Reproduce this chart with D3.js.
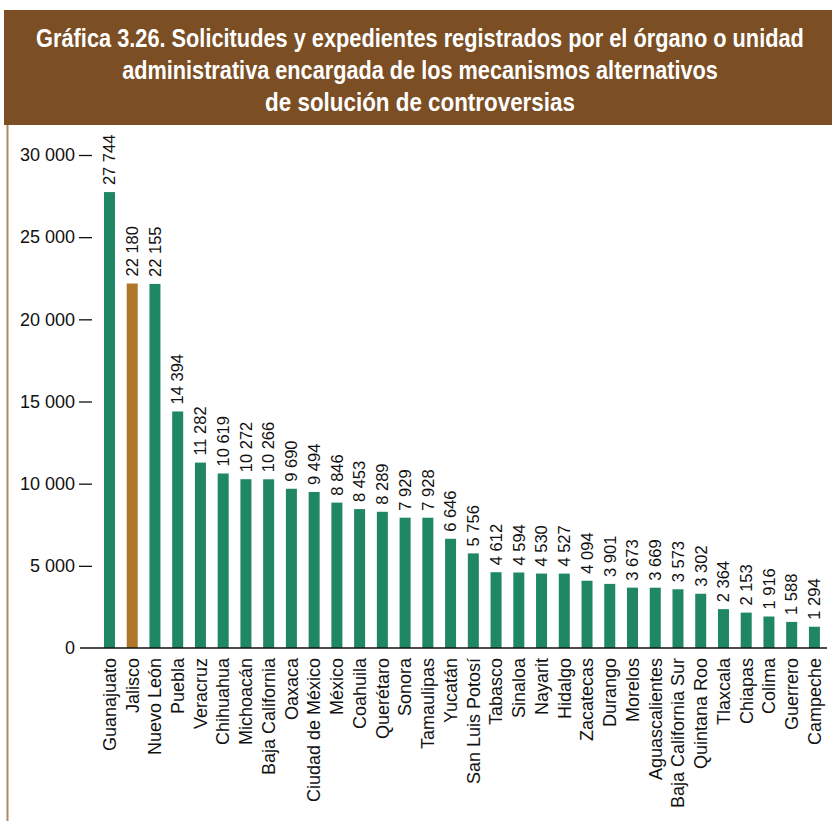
<html>
<head>
  <meta charset="UTF-8">
  <title>Gráfica 3.26</title>
  <script src="https://d3js.org/d3.v7.min.js"></script>
  <style>
    body { margin: 0; background: white; }
    text { font-family: "Liberation Sans", Arial, sans-serif; }
  </style>
</head>
<body>
<svg></svg>
<script>

    // Data

    const estados = ["Guanajuato", "Jalisco", "Nuevo León", "Puebla", "Veracruz", "Chihuahua",
        "Michoacán", "Baja California", "Oaxaca", "Ciudad de México", "México", "Coahuila",
        "Querétaro", "Sonora", "Tamaulipas", "Yucatán", "San Luis Potosí", "Tabasco", "Sinaloa",
        "Nayarit", "Hidalgo", "Zacatecas", "Durango", "Morelos", "Aguascalientes",
        "Baja California Sur", "Quintana Roo", "Tlaxcala", "Chiapas", "Colima", "Guerrero", "Campeche"];

    const solicitudes = [27744, 22180, 22155, 14394, 11282, 10619, 10272, 10266, 9690, 9494,
        8846, 8453, 8289, 7929, 7928, 6646, 5756, 4612, 4594, 4530, 4527, 4094, 3901, 3673,
        3669, 3573, 3302, 2364, 2153, 1916, 1588, 1294];

    const resaltado = ["Jalisco"];

    const yTicks = [0, 5000, 10000, 15000, 20000, 25000, 30000];

    const titulo = [
        "Gráfica 3.26. Solicitudes y expedientes registrados por el órgano o unidad",
        "administrativa encargada de los mecanismos alternativos",
        "de solución de controversias"
    ];

    // Setup

    const width = 832;
    const height = 821;

    const svg = d3.select("svg")
                  .attr("width", width)
                  .attr("height", height);

    const locale = d3.formatLocale({ decimal: ",", thousands: " ", grouping: [3], currency: ["", ""] });
    const fmt = locale.format(",d");

    // Header band

    svg.append("rect")
       .attr("x", 4).attr("y", 10)
       .attr("width", width - 4).attr("height", 115)
       .attr("fill", "#7b4e24");

    svg.append("line")
       .attr("x1", 7.5).attr("x2", 7.5)
       .attr("y1", 125).attr("y2", height)
       .attr("stroke", "#a88a68")
       .attr("stroke-width", 2);

    // title is a condensed bold face in the original, squeeze each line horizontally
    const titleWidths = [768, 596, 310];
    titulo.forEach((t, i) => {
        let g = svg.append("g");
        let txt = g.append("text")
           .attr("text-anchor", "middle")
           .attr("fill", "white")
           .attr("font-weight", "bold")
           .attr("font-size", 26)
           .text(t);
        const natural = txt.node().getComputedTextLength();
        const sx = titleWidths[i] / natural;
        g.attr("transform", `translate(420, ${47 + i * 32}) scale(${sx}, 1)`);
    });

    // Scales

    const xScale = d3.scaleBand()
                     .domain(estados)
                     .range([92.6, 831.3])
                     .paddingInner(0.516)
                     .paddingOuter(0.5);

    const yScale = d3.scaleLinear()
                     .domain([0, 30000])
                     .range([648, 155]);

    // Y axis

    const leftAxis = d3.axisLeft(yScale)
                       .tickValues(yTicks)
                       .tickFormat(d => fmt(d))
                       .tickSize(13)
                       .tickPadding(4);

    const yAxis = svg.append("g")
                     .attr("class", "y axis")
                     .attr("transform", "translate(92, 0)")
                     .call(leftAxis);

    yAxis.select(".domain").remove();
    yAxis.selectAll(".tick line").attr("stroke", "#111").attr("stroke-width", 1.3);
    yAxis.selectAll(".tick text")
         .attr("font-size", 18)
         .attr("fill", "#111")
         .style("font-family", "'Liberation Sans', Arial, sans-serif");
    // the zero tick has no dash, the baseline starts there instead
    yAxis.selectAll(".tick").filter(d => d === 0).select("line").remove();

    // Bars

    svg.selectAll("rect.bar")
       .data(estados)
       .join("rect")
       .attr("class", "bar")
       .attr("x", d => xScale(d))
       .attr("width", xScale.bandwidth())
       .attr("y", (d, i) => yScale(solicitudes[i]))
       .attr("height", (d, i) => yScale(0) - yScale(solicitudes[i]))
       .attr("fill", d => resaltado.includes(d) ? "#b07629" : "#1f8763");

    // Baseline

    svg.append("line")
       .attr("x1", 80).attr("x2", 827)
       .attr("y1", yScale(0)).attr("y2", yScale(0))
       .attr("stroke", "#111")
       .attr("stroke-width", 1.6);

    // Value labels

    svg.selectAll("text.valor")
       .data(estados)
       .join("text")
       .attr("class", "valor")
       .attr("transform", (d, i) =>
            `translate(${xScale(d) + xScale.bandwidth() / 2}, ${yScale(solicitudes[i]) - 7}) rotate(-90)`)
       .attr("dy", "0.35em")
       .attr("font-size", 16.5)
       .attr("fill", "#111")
       .text((d, i) => fmt(solicitudes[i]));

    // Category labels

    svg.selectAll("text.estado")
       .data(estados)
       .join("text")
       .attr("class", "estado")
       .attr("transform", d =>
            `translate(${xScale(d) + xScale.bandwidth() / 2}, ${yScale(0) + 10}) rotate(-90)`)
       .attr("dy", "0.35em")
       .attr("text-anchor", "end")
       .attr("font-size", 18)
       .attr("fill", "#111")
       .text(d => d);

</script>
</body>
</html>
